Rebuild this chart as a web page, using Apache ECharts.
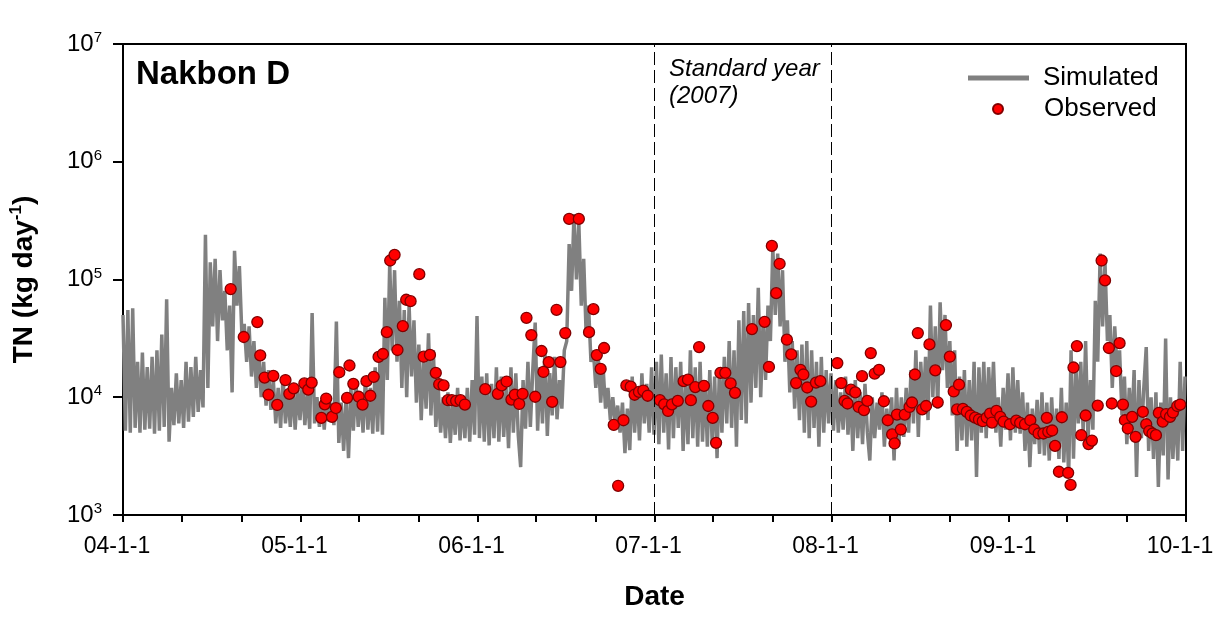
<!DOCTYPE html>
<html>
<head>
<meta charset="utf-8">
<script src="https://cdn.jsdelivr.net/npm/echarts@6/dist/echarts.min.js"></script>
<style>
html,body{margin:0;padding:0;background:#fff;}
#chart{width:1228px;height:621px;}
</style>
</head>
<body>
<div id="chart"></div>
<script>
// ---- data ----
const simStart = '2004-01-01';
const simStepDays = 5;
const simValues = [
50000,5200,55000,5000,57000,5500,20000,5000,24000,5300,
18000,5400,22000,4900,25000,5200,34000,5600,68000,4200,
12000,5800,16000,6000,14000,5500,20000,6200,18000,6800,
22000,7500,17000,8200,240000,12000,140000,40000,150000,30000,
120000,45000,80000,25000,60000,11000,175000,60000,130000,35000,
42000,20000,40000,15000,30000,12000,25000,10000,20000,8500,
17000,7800,14000,6000,12000,5500,15000,6000,11000,5600,
13000,5300,12000,6400,14000,5800,11000,5400,52000,6000,
10000,5600,9500,5300,10800,6200,9000,5800,44000,4100,
9000,3500,10000,3040,12000,5200,14000,5600,11000,5000,
15000,5300,12000,4900,18000,5100,22000,4800,70000,14000,
137000,25000,120000,20000,66000,12000,55000,10000,60000,15000,
45000,9000,28000,6400,22000,8000,35000,7000,25000,5600,
12000,5000,10000,4500,11000,4100,9400,4800,12000,4300,
10000,4500,12000,4200,14000,4800,49000,4500,15000,4200,
16000,3900,13000,4500,18000,4200,15000,4600,12000,3700,
18000,5000,16000,4800,2550,14000,5400,20000,5600,17000,
43000,5200,18000,6000,25000,4700,16000,7000,22000,6500,
14000,8000,25000,30000,200000,80000,360000,100000,300000,60000,
150000,35000,60000,20000,25000,12000,22000,9000,18000,8000,
12000,6400,10000,6000,8500,5000,9000,3350,8000,3550,
15000,5000,12000,4300,16000,6000,13000,5000,18000,4800,
20000,4000,23000,5000,16000,3600,22000,4500,18000,5500,
20000,3500,14000,4000,25000,4500,18000,3800,20000,4200,
14000,3800,17000,4000,15000,3040,18000,5000,22000,6000,
30000,5500,25000,3800,45000,6400,54000,6000,63000,9000,
50000,12000,85000,10000,45000,14000,60000,30000,188000,50000,
166000,40000,120000,20000,45000,11000,30000,8000,25000,6400,
28000,5000,30000,4500,25000,5500,20000,3800,22000,5000,
17000,6000,16000,5200,14000,5000,11000,5300,15000,4800,
12000,3500,14000,4500,11000,4000,13000,5000,2900,10000,
4500,9000,5300,11000,3800,8000,4500,10000,2900,12000,
4000,10000,4600,12000,5000,17000,6000,25000,4600,20000,
8000,22000,6400,60000,10000,40000,8000,64000,17000,50000,
12000,30000,7000,25000,3500,15000,4300,17000,3800,14000,
4300,20000,2100,18000,5000,20000,4500,18000,6400,20000,
5000,10000,3800,12000,5300,16000,4300,18000,5000,14000,
4900,11000,3500,9000,2550,8000,4000,9500,3300,11000,
3200,9000,2900,10000,3500,8000,3000,12000,2800,9000,
2100,25000,3000,18000,6000,20000,5000,30000,4300,14000,
5300,66000,20000,166000,40000,137000,30000,50000,12000,40000,
17000,25000,7000,15000,4000,12000,5200,17000,2100,14000,
4500,12000,26700,3500,10000,3000,11000,1730,9000,3200,
31500,2000,10000,3000,9000,2900,20000,3500,15000
];

// observed: days since 2004-01-01, and values (kg/day)
const obsDays = [
222,249,277,283,292,300,310,318,335,343,352,
374,382,389,409,416,419,431,439,446,462,467,475,486,494,502,510,517,527,536,544,551,560,566,577,584,593,611,620,633,645,652,661,670,678,687,696,705,
747,773,781,791,801,808,817,824,832,842,850,863,867,878,885,894,902,912,920,940,961,970,977,985,992,1012,1021,1032,1038,1047,1055,1064,1073,1082,
1107,1116,1124,1132,1144,1156,1165,1171,1180,1188,1198,1207,1216,1223,1232,1242,1253,1262,1297,1323,1332,1338,1347,1354,1369,1378,1388,1397,1403,1411,1419,1429,1438,
1473,1481,1488,1494,1501,1510,1517,1524,1528,1535,1542,1550,1559,1569,1577,1586,1591,1596,1604,1612,1622,1627,1633,1639,1648,1656,1663,1675,1680,1697,1705,1713,1720,1724,1732,1740,1748,1757,1765,1773,1781,1788,1792,1801,1809,1816,
1829,1842,1850,1860,1871,1879,1888,1898,1905,1908,1916,1922,1930,1936,1949,1954,1960,1967,1976,1985,1991,1998,2010,2018,2025,2033,2039,2048,2055,2062,2066,2072,2081,2088,2103,2110,2116,2123,2130,2136,2144,2151,2159,2165,2174,2180
];
const obsValues = [
83000,32500,43500,22700,14700,10500,15200,8600,14000,10700,11900,
13100,11600,13300,6680,8700,9750,6810,8100,16300,9870,18600,13000,10100,8670,13700,10300,14900,22000,23300,35700,145000,162000,25200,40200,67300,65500,111000,22100,22900,16100,12900,12600,9440,9440,9310,9440,8670,
11700,10700,12600,13600,9560,10500,8770,10700,47300,33700,10100,24700,16400,19900,9130,55300,19900,35100,327000,327000,35700,56000,22800,17400,26200,5820,1770,6380,12600,12300,10500,11100,11400,10300,
9440,8700,7650,8700,9310,13700,14100,9440,12200,26700,12500,8430,6680,4100,16100,16100,13100,10900,37900,43700,18100,193000,76600,136000,30800,23100,13200,17100,15600,12100,9190,13300,13700,
19500,13200,9310,8850,11600,11000,8270,15100,7770,9310,23700,15900,17100,9250,6380,4830,4050,7130,5320,7130,8270,9020,15600,35100,7880,8430,28100,16900,9060,41000,22100,11200,7880,12800,7960,7510,7000,6720,6470,6260,6720,7270,6100,7650,6810,6200,
5900,6320,6060,5900,6380,5320,4920,4920,6680,5090,5220,3860,2330,6760,2280,1800,17900,27200,4760,7000,4000,4290,8490,145000,98300,26200,8850,16700,28800,8670,6380,5430,6810,4610,7510,5900,5160,4920,4760,7360,6200,7180,6810,7420,8430,8670
];

const xLabelDates = ['2004-01-01','2005-01-01','2006-01-01','2007-01-01','2008-01-01','2009-01-01','2010-01-01'];
const xTickLabels = ['04-1-1','05-1-1','06-1-1','07-1-1','08-1-1','09-1-1','10-1-1'];
const xTickDates = ['2004-01-01','2004-05-01','2004-09-01','2005-01-01','2005-05-01','2005-09-01',
  '2006-01-01','2006-05-01','2006-09-01','2007-01-01','2007-05-01','2007-09-01',
  '2008-01-01','2008-05-01','2008-09-01','2009-01-01','2009-05-01','2009-09-01','2010-01-01'];
const standardYearBounds = ['2007-01-01','2008-01-01'];
const yMin = 1e3, yMax = 1e7;

// ---- build ----
const DAY = 86400000;
function ts(s){ const p = s.split('-').map(Number); return Date.UTC(p[0], p[1]-1, p[2]); }
const t0 = ts(simStart);
const simData = simValues.map((v, i) => [t0 + i * simStepDays * DAY, v]);
const obsData = obsDays.map((d, i) => [t0 + d * DAY, obsValues[i]]);
const labelTimes = xLabelDates.map(ts);
const tickTimes = xTickDates.map(ts);
const FONT = '"Liberation Sans", Arial, Helvetica, sans-serif';

const chart = echarts.init(document.getElementById('chart'), null, {renderer: 'canvas'});
chart.setOption({
  animation: false,
  backgroundColor: '#fff',
  textStyle: {fontFamily: FONT, color: '#000'},
  title: {
    text: 'Nakbon D', left: 136, top: 58, padding: 0,
    textStyle: {fontFamily: FONT, fontSize: 33, fontWeight: 'bold', color: '#000'}
  },
  legend: [
    {
      data: [{name: 'Simulated', icon: 'rect'}],
      left: 968, top: 65, padding: 0, itemWidth: 61, itemHeight: 5,
      textStyle: {fontFamily: FONT, fontSize: 26, color: '#000', padding: [0, 0, 0, 9]}
    },
    {
      data: [{name: 'Observed', icon: 'circle'}],
      left: 992, top: 96, padding: 0, itemWidth: 10, itemHeight: 10,
      textStyle: {fontFamily: FONT, fontSize: 26, color: '#000', padding: [0, 0, 0, 36]}
    }
  ],
  graphic: [{
    type: 'text', left: 669, top: 56,
    style: {text: 'Standard year\n(2007)', font: 'italic 24px ' + FONT, fill: '#000', lineHeight: 27}
  }],
  grid: {left: 122, right: 42, top: 44, bottom: 106, show: true, borderColor: '#000', borderWidth: 2, backgroundColor: 'transparent'},
  xAxis: {
    type: 'value', min: labelTimes[0], max: labelTimes[labelTimes.length - 1],
    axisLine: {show: true, onZero: false, lineStyle: {color: '#000', width: 2}},
    axisTick: {show: true, length: 7, lineStyle: {color: '#000', width: 2}, customValues: tickTimes},
    axisLabel: {
      customValues: labelTimes, fontFamily: FONT, fontSize: 23, color: '#000', margin: 20,
      padding: [0, 12, 0, 0],
      formatter: function (v) { const i = labelTimes.indexOf(v); return i >= 0 ? xTickLabels[i] : ''; }
    },
    splitLine: {show: false},
    name: 'Date', nameLocation: 'middle', nameGap: 68,
    nameTextStyle: {fontFamily: FONT, fontSize: 28, fontWeight: 'bold', color: '#000'}
  },
  yAxis: {
    type: 'log', logBase: 10, min: yMin, max: yMax,
    axisLine: {show: true, lineStyle: {color: '#000', width: 2}},
    axisTick: {show: true, length: 10, lineStyle: {color: '#000', width: 2}},
    axisLabel: {
      margin: 21, color: '#000',
      formatter: function (v) { return '{b|10}{s|' + Math.round(Math.log10(v)) + '}'; },
      rich: {
        b: {fontFamily: FONT, fontSize: 24, color: '#000'},
        s: {fontFamily: FONT, fontSize: 15, color: '#000', padding: [0, 0, 12, 0]}
      }
    },
    splitLine: {show: false},
    name: '{t|TN (kg day}{s|-1}{t|)}', nameLocation: 'middle', nameGap: 82, nameRotate: 90,
    nameTextStyle: {
      rich: {
        t: {fontFamily: FONT, fontSize: 28, fontWeight: 'bold', color: '#000'},
        s: {fontFamily: FONT, fontSize: 17, fontWeight: 'bold', color: '#000', padding: [0, 0, 16, 0]}
      }
    }
  },
  series: [
    {
      name: 'Simulated', type: 'line', data: simData, showSymbol: false, symbol: 'none',
      lineStyle: {color: '#808080', width: 3.5}, itemStyle: {color: '#808080'},
      z: 2,
      markLine: {
        silent: true, symbol: ['none', 'none'], label: {show: false},
        lineStyle: {color: '#000', width: 1, type: [13, 5]},
        data: standardYearBounds.map(d => ({xAxis: ts(d)}))
      }
    },
    {
      name: 'Observed', type: 'scatter', data: obsData, symbol: 'circle', symbolSize: 11,
      itemStyle: {color: '#ff0000', borderColor: '#800000', borderWidth: 1.3, opacity: 1},
      z: 3
    }
  ]
});
</script>
</body>
</html>
